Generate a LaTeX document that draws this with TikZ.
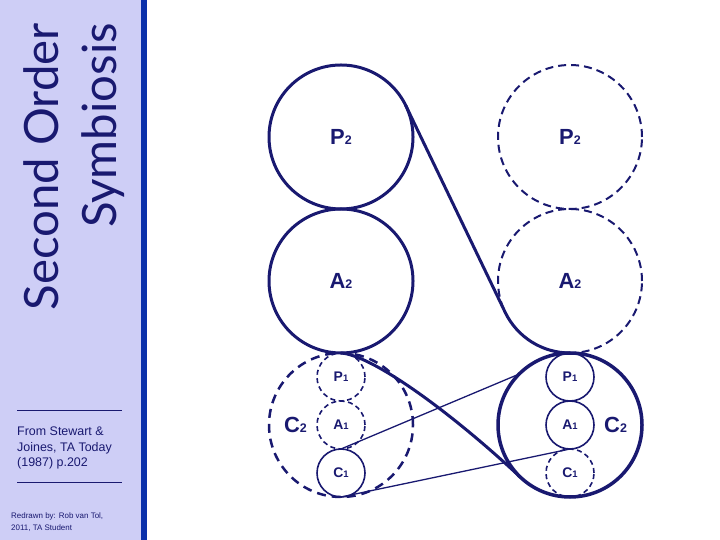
\documentclass[tikz,border=0pt]{standalone}
\usepackage{fontspec}
\setmainfont{Liberation Sans}
\newfontfamily\titlefont{Lato}
\usetikzlibrary{positioning}
\usepackage{xcolor}
\definecolor{ink}{RGB}{25,25,112}
\definecolor{lavender}{RGB}{206,206,246}
\definecolor{barblue}{RGB}{10,48,170}
\newcommand{\bsub}[1]{{\fontsize{12.5}{12.5}\selectfont #1}}
\newcommand{\ssub}[1]{{\fontsize{9.5}{9.5}\selectfont #1}}

\begin{document}
\begin{tikzpicture}[
    x=1bp, y=1bp,
    node distance=0pt,
    ring/.style={circle, draw=ink, inner sep=0pt, outer sep=0pt, text=ink,
        font=\bfseries\fontsize{22}{22}\selectfont},
    bigring/.style={ring, minimum size=144bp, line width=3bp},
    bigdash/.style={ring, minimum size=144bp, line width=2bp,
        dash pattern=on 8bp off 5bp},
    smallring/.style={ring, minimum size=48bp, line width=1.6bp,
        font=\bfseries\fontsize{14}{14}\selectfont},
    smalldash/.style={smallring, dash pattern=on 5bp off 3.5bp},
    bigname/.style={inner sep=0pt, text=ink, font=\bfseries\fontsize{22}{22}\selectfont},
    note/.style={anchor=north west, align=left, inner sep=0pt, text=ink},
    belt/.style={ink, line width=3bp},
    cord/.style={ink, line width=1.3bp}
]
\useasboundingbox (0,0) rectangle (720,540);
\fill[lavender] (0,0) rectangle (141,540);
\fill[barblue] (141,0) rectangle (147,540);
\node[rotate=90, anchor=east, align=right, inner sep=0pt, text=ink,
      font=\titlefont\fontsize{47.5}{58}\selectfont] (title) at (74,517) {Second Order\\Symbiosis};
\draw[ink, line width=1bp] (17,129) -- (122,129);
\node[note, font=\fontsize{12.5}{15.5}\selectfont] (source) at (17,113)
    {From Stewart \&\\Joines, TA Today\\(1987) p.202};
\draw[ink, line width=1bp] (17,57) -- (122,57);
\node[note, font=\fontsize{8}{12}\selectfont] (credit) at (11,27)
    {Redrawn by: Rob van Tol,\\2011, TA Student};

\node[bigring] (p2L) at (341,403) {P\bsub{2}};
\node[bigring, below=of p2L] (a2L) {A\bsub{2}};
\node[smalldash, below=of a2L] (p1L) {P\ssub{1}};
\node[smalldash, below=of p1L] (a1L) {A\ssub{1}};
\node[smallring, below=of a1L] (c1L) {C\ssub{1}};
\node[bigdash, line width=2.5bp, dash pattern=on 9bp off 6bp] (c2L) at (a1L) {};
\node[bigname, left=10bp of a1L] (c2Lname) {C\bsub{2}};

\node[bigdash] (p2R) at (570,403) {P\bsub{2}};
\node[bigdash, below=of p2R] (a2R) {A\bsub{2}};
\node[smallring, below=of a2R] (p1R) {P\ssub{1}};
\node[smallring, below=of p1R] (a1R) {A\ssub{1}};
\node[smalldash, below=of a1R] (c1R) {C\ssub{1}};
\node[bigring, line width=3.5bp] (c2R) at (a1R) {};
\node[bigname, right=10bp of a1R] (c2Rname) {C\bsub{2}};

\draw[belt] (p2L.26) -- (a2R.206) arc[start angle=206, end angle=270, radius=72bp];
\draw[belt] (a2L.south) to[out=-4, in=137, out distance=30bp, in distance=102bp] (c2R.227);
\draw[cord] (a1L.south) -- (c2R.135);
\draw[cord] (c1L.south) -- (a1R.south);
\end{tikzpicture}
\end{document}
